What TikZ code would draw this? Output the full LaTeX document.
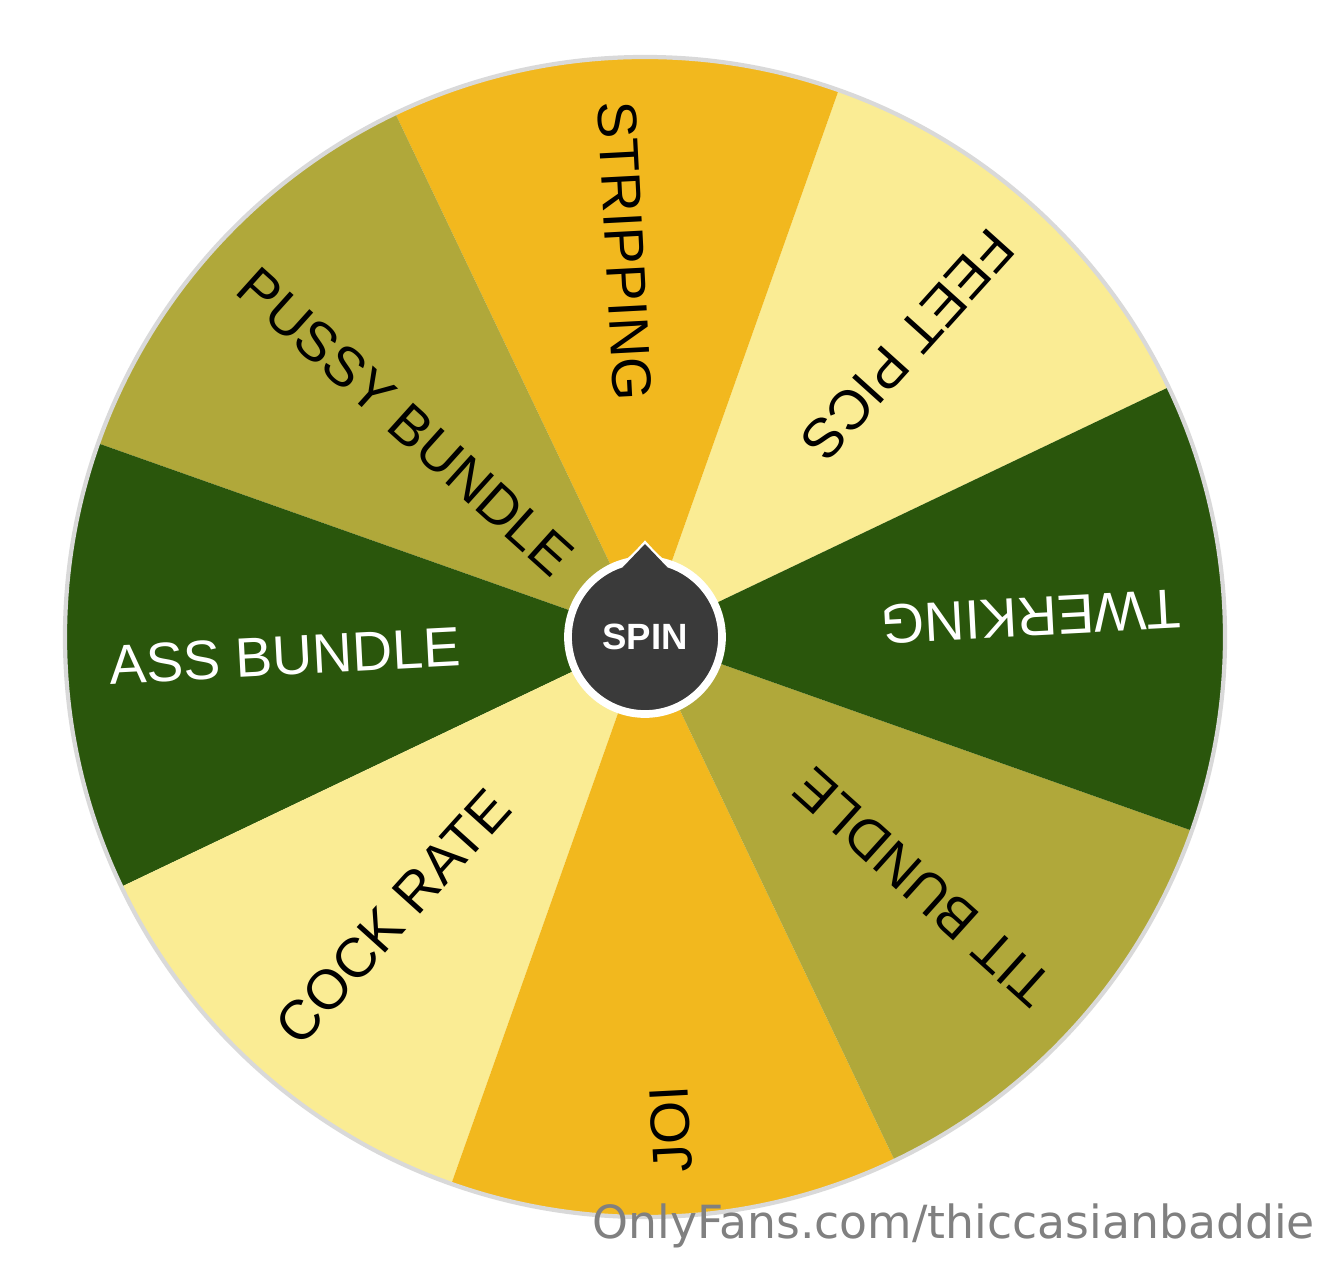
\documentclass[tikz,border=0pt]{standalone}
\usepackage{fontspec}
\usepackage{tikz}
\newfontfamily\wheelfont{Liberation Sans}
\newfontfamily\markfont{DejaVu Sans}

\definecolor{wheelorange}{RGB}{242,184,30}
\definecolor{wheelcream}{RGB}{250,236,148}
\definecolor{wheelgreen}{RGB}{42,86,12}
\definecolor{wheelolive}{RGB}{176,168,58}
\definecolor{hubgrey}{RGB}{58,58,58}
\definecolor{markgrey}{RGB}{128,128,128}

\tikzset{
  slice label/.style={anchor=west, inner sep=0pt, font=\wheelfont\fontsize{15.8}{18}\selectfont},
}

\begin{document}
\begin{tikzpicture}
\useasboundingbox (-6.45,-6.25) rectangle (6.81,6.37);
\fill[white] (-6.45,-6.25) rectangle (6.81,6.37);

% Wheel slices
\foreach \s/\c in {25.5/wheelcream, 70.5/wheelorange, 115.5/wheelolive, 160.5/wheelgreen,
                   205.5/wheelcream, 250.5/wheelorange, 295.5/wheelolive, 340.5/wheelgreen}
  \fill[\c] (0,0) -- (\s:5.8) arc[start angle=\s, end angle=\s+45, radius=5.8] -- cycle;
% Rim shadow
\draw[black!15, line width=1.2pt] (0,0) circle (5.8);

% Slice labels
\foreach \a/\t/\tc/\n in {48/FEET PICS/black/feet, 93/STRIPPING/black/strip,
                          138/PUSSY BUNDLE/black/pussy, 183/ASS BUNDLE/white/ass,
                          228/COCK RATE/black/cock, 273/JOI/black/joi,
                          318/TIT BUNDLE/black/tit, 3/TWERKING/white/twerk}
  \node[slice label, text=\tc, rotate=\a+180] (lbl-\n) at (\a:5.37) {\t};

% Pointer and hub
\fill[hubgrey, draw=white, line width=1pt] (110:0.74) .. controls (-0.11,0.82) .. (0,0.94)
  .. controls (0.11,0.82) .. (70:0.74) -- cycle;
\node[circle, fill=hubgrey, draw=white, line width=2.2pt, minimum size=1.54cm, inner sep=0pt,
      text=white, font=\wheelfont\bfseries\fontsize{10.4}{12}\selectfont] (spin) at (0,0) {SPIN};
\fill[hubgrey] (108:0.73) .. controls (-0.11,0.82) .. (0,0.93)
  .. controls (0.11,0.82) .. (72:0.73) -- cycle;

% Watermark
\node[anchor=base west, inner sep=0pt, text=markgrey, font=\markfont\fontsize{13}{15}\selectfont]
  (mark) at (-0.53,-6.01) {OnlyFans.com/thiccasianbaddie};
\end{tikzpicture}
\end{document}
